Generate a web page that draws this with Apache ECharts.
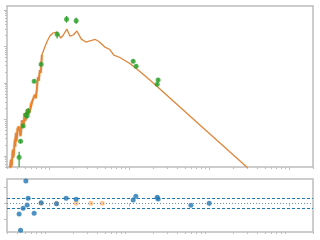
<!DOCTYPE html>
<html><head><meta charset="utf-8">
<script src="https://cdn.jsdelivr.net/npm/echarts@6/dist/echarts.min.js"></script>
<style>html,body{margin:0;padding:0;background:#fff}#c{width:320px;height:240px}</style>
</head><body><div id="c"></div>
<script>
// Model SED (wavelength, flux)
const modelX = [0.326,0.335,0.345,0.355,0.365,0.376,0.387,0.398,0.410,0.434,0.447,0.473,0.487,0.501,0.516,0.546,0.579,0.613,0.631,0.668,0.688,0.729,0.750,0.772,0.794,0.818,0.891,0.944,1.029,1.122,1.259,1.314,1.413,1.518,1.679,1.830,2.024,2.239,2.548,2.901,3.254,3.811,4.217,5.012,5.79,6.49,7.72,10.29,13.73,18.31,24.41,77.2,307];
const modelY = [4.13e-5,7.76e-5,5.66e-5,1.46e-4,1.06e-4,2.74e-4,4.27e-4,2.74e-4,5.15e-4,6.24e-4,3.76e-4,9.68e-4,7.06e-4,1.51e-3,9.68e-4,1.82e-3,1.60e-3,2.49e-3,3.42e-3,4.69e-3,3.88e-3,0.0146,0.0121,0.0227,0.0200,0.0585,0.0968,0.133,0.194,0.234,0.249,0.274,0.171,0.207,0.301,0.194,0.207,0.266,0.160,0.133,0.142,0.156,0.137,0.0968,0.0828,0.0585,0.0500,0.0342,0.0207,0.0121,6.85e-3,7.06e-4,4.69e-5];
// High-resolution (noisy) part of the model spectrum in the optical
const specX = [0.326,0.330,0.335,0.340,0.345,0.350,0.355,0.360,0.365,0.370,0.376,0.382,0.387,0.393,0.398,0.404,0.410,0.420,0.434,0.440,0.447,0.460,0.473,0.480,0.487,0.495,0.501,0.508,0.516,0.530,0.546,0.560,0.579,0.595,0.613,0.631,0.650,0.668,0.688,0.710,0.729,0.750,0.772,0.794,0.818];
const specY = [4.0e-5,6.0e-5,8.0e-5,5.0e-5,6.0e-5,1.2e-4,1.5e-4,9.0e-5,1.1e-4,2.0e-4,2.8e-4,1.8e-4,4.3e-4,2.5e-4,3.0e-4,5.5e-4,5.0e-4,6.5e-4,6.0e-4,3.5e-4,4.0e-4,9.5e-4,1.0e-3,6.5e-4,7.5e-4,1.5e-3,1.5e-3,9.0e-4,1.0e-3,1.9e-3,1.8e-3,1.4e-3,1.7e-3,2.6e-3,2.4e-3,3.5e-3,3.2e-3,4.8e-3,3.8e-3,7.0e-3,0.0146,0.0115,0.0227,0.019,0.0585];
// Observed photometry
const obsX  = [1.664,2.194,1.270,0.655,0.801,11.32,12.34,23.2,22.6,0.551,0.516,0.536,0.477,0.443,0.425];
const obsY  = [0.556,0.509,0.216,0.0111,0.0325,0.0393,0.0287,0.0121,0.0092,1.71e-3,1.33e-3,1.27e-3,6.64e-4,2.53e-4,9.2e-5];
const obsLo = [0.452,0.422,0.166,0.0101,0.0287,0.0357,0.0261,0.0110,0.00837,1.42e-3,1.10e-3,1.05e-3,5.85e-4,2.23e-4,5.09e-5];
const obsHi = [0.686,0.615,0.258,0.01225,0.0369,0.0433,0.0316,0.0133,0.0101,2.07e-3,1.60e-3,1.53e-3,7.53e-4,2.87e-4,1.31e-4];
// Residuals
const resX = [0.516,0.551,0.536,0.477,0.425,0.655,0.443,0.801,1.248,1.645,2.194,11.32,12.23,22.6,23.2,59.6,100.9];
const resY = [4.13,0.93,-0.31,-0.93,-1.98,-1.85,-5.0,0.11,-0.07,0.93,0.74,0.61,1.30,1.11,0.80,-0.37,0.0];
const limX = [0.801,1.248,2.194,3.35,4.64];
const limY = [0,0,0,0,0];
// Tick positions
const xMajor = [1,10,100,1000];
const xMinor = [0.3,0.4,0.5,0.6,0.7,0.8,0.9,2,3,4,5,6,7,8,9,20,30,40,50,60,70,80,90,200,300,400,500,600,700,800,900,2000];
const yMajor = [1e-4,1e-3,1e-2,1e-1,1];
const yMinor = [];
[1e-5,1e-4,1e-3,1e-2,1e-1,1].forEach(d=>{for(let k=2;k<10;k++)yMinor.push(+(d*k).toPrecision(3));});
const resTicks = [-3,0,3];

const gray = '#bdbdbd';
function xAx(grid, vals, len){
  return {type:'log', gridIndex:grid, position:'bottom', offset:0, min:0.3, max:2000, show:true,
    axisLine:{show:false}, splitLine:{show:false}, axisLabel:{show:false},
    axisTick:{show:true, inside:false, length:len, lineStyle:{color:gray,width:1}, customValues:vals}};
}
function yAxLog(vals,len){
  return {type:'log', gridIndex:0, position:'left', offset:0, min:5e-5, max:1.29, show:true,
    axisLine:{show:false}, splitLine:{show:false}, axisLabel:{show:false},
    axisTick:{show:true, inside:false, length:len, lineStyle:{color:gray,width:1}, customValues:vals}};
}
const chart = echarts.init(document.getElementById('c'), null, {renderer:'canvas'});
chart.setOption({
  animation:false,
  backgroundColor:'#fff',
  grid:[
    {left:7, top:6, width:306, height:161, show:true, borderColor:gray, borderWidth:1.5, backgroundColor:'transparent'},
    {left:7, top:179, width:306, height:53, show:true, borderColor:gray, borderWidth:1.5, backgroundColor:'transparent'}
  ],
  xAxis:[xAx(0,xMajor,3), xAx(0,xMinor,2), xAx(1,xMajor,3), xAx(1,xMinor,2)],
  yAxis:[yAxLog(yMajor,3), yAxLog(yMinor,2),
    {type:'value', gridIndex:1, position:'left', min:-5.31, max:4.5, show:true,
     axisLine:{show:false}, splitLine:{show:false}, axisLabel:{show:false},
     axisTick:{show:true, length:3, lineStyle:{color:gray}, customValues:resTicks}}],
  series:[
    {type:'line', xAxisIndex:0, yAxisIndex:0, data:specX.map((x,i)=>[x,specY[i]]),
     showSymbol:false, lineStyle:{color:'#d9b89a', width:3, opacity:0.6}, z:1, silent:true},
    {type:'line', xAxisIndex:0, yAxisIndex:0, data:specX.map((x,i)=>[x,specY[i]]),
     showSymbol:false, lineStyle:{color:'#ff7f0e', width:1.6}, z:2, silent:true},
    {type:'line', xAxisIndex:0, yAxisIndex:0, data:modelX.map((x,i)=>[x,modelY[i]]),
     showSymbol:false, lineStyle:{color:'#e0853a', width:1.3}, z:2, silent:true},
    {type:'custom', xAxisIndex:0, yAxisIndex:0, z:3, silent:true,
     data:obsX.map((x,i)=>[x,obsLo[i],obsHi[i]]),
     encode:{x:0,y:[1,2]},
     renderItem:function(params,api){
       const p1=api.coord([api.value(0),api.value(1)]);
       const p2=api.coord([api.value(0),api.value(2)]);
       return {type:'line', shape:{x1:p1[0],y1:p1[1],x2:p2[0],y2:p2[1]}, style:{stroke:'#2ca02c',lineWidth:1.2}};
     }},
    {type:'scatter', xAxisIndex:0, yAxisIndex:0, data:obsX.map((x,i)=>[x,obsY[i]]),
     symbolSize:5, itemStyle:{color:'#2ca02c'}, z:4, silent:true},
    {type:'scatter', xAxisIndex:2, yAxisIndex:2, data:limX.map((x,i)=>[x,limY[i]]),
     symbolSize:5, itemStyle:{color:'#ffb877'}, z:3, silent:true,
     markLine:{silent:true, symbol:'none', label:{show:false},
       data:[
         {yAxis:1, lineStyle:{color:'#1f77b4', type:[3,2], width:1}},
         {yAxis:-1, lineStyle:{color:'#1f77b4', type:[3,2], width:1}},
         {yAxis:0, lineStyle:{color:'#6f8fb8', type:[1,2], width:1}}
       ]}},
    {type:'scatter', xAxisIndex:2, yAxisIndex:2, data:resX.map((x,i)=>[x,resY[i]]),
     symbolSize:5, itemStyle:{color:'#1f77b4'}, z:4, silent:true}
  ]
});
</script></body></html>
